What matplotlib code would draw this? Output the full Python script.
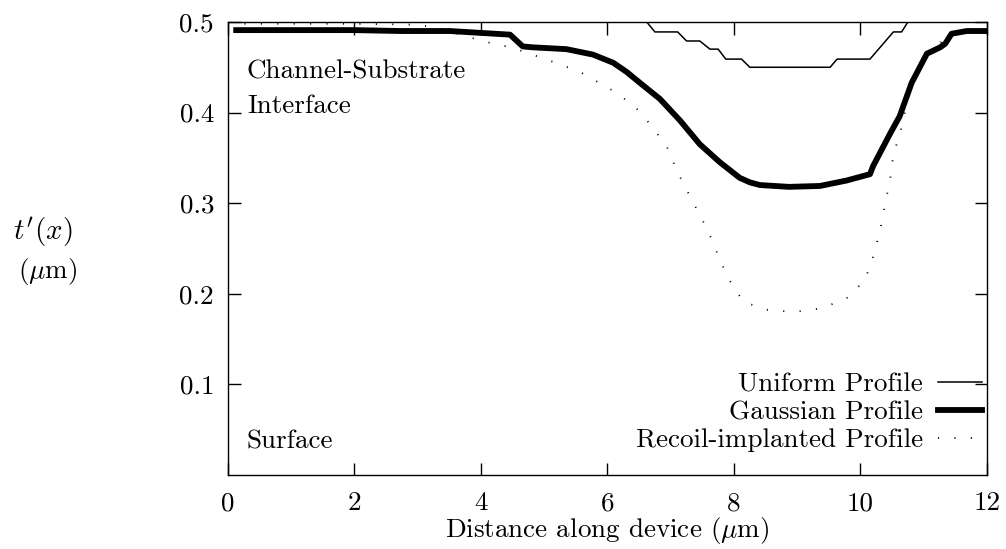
import matplotlib
matplotlib.use("Agg")
import matplotlib.pyplot as plt

plt.rcParams["font.family"] = "serif"
plt.rcParams["font.serif"] = ["cmr10", "DejaVu Serif"]
plt.rcParams["mathtext.fontset"] = "cm"
plt.rcParams["axes.unicode_minus"] = False
plt.rcParams["axes.formatter.use_mathtext"] = True

# uniform profile (stepped)
uni_x = [6.62, 6.75, 7.11, 7.25, 7.46, 7.62, 7.75, 7.87, 8.12, 8.25, 9.52, 9.63, 10.15, 10.52, 10.65, 10.75]
uni_y = [0.500, 0.489, 0.489, 0.479, 0.479, 0.470, 0.470, 0.459, 0.459, 0.450, 0.450, 0.459, 0.459, 0.489, 0.489, 0.500]

# gaussian profile
gau_x = [0.13, 1.0, 2.0, 2.72, 3.51, 3.98, 4.46, 4.66, 4.82, 5.35, 5.77, 6.09, 6.30, 6.51,
         6.83, 7.15, 7.46, 7.78, 8.09, 8.25, 8.41, 8.87, 9.36, 9.78, 10.15, 10.2, 10.47, 10.62,
         10.81, 11.05, 11.26, 11.34, 11.44, 11.68, 12.0]
gau_y = [0.491, 0.491, 0.491, 0.490, 0.490, 0.488, 0.486, 0.473, 0.472, 0.470, 0.464, 0.455,
         0.445, 0.433, 0.415, 0.391, 0.365, 0.345, 0.328, 0.323, 0.320, 0.318, 0.319, 0.325,
         0.332, 0.341, 0.377, 0.396, 0.433, 0.465, 0.472, 0.476, 0.487, 0.490, 0.490]

# recoil-implanted profile
rec_x = [0.0, 1.0, 2.0, 3.0, 3.35, 3.72, 3.93, 4.14, 4.35, 4.54, 4.75, 4.96, 5.14, 5.33, 5.53,
         5.72, 5.91, 6.09, 6.25, 6.43, 6.70, 6.94, 7.11, 7.30, 7.49, 7.67, 7.75, 7.91, 8.15,
         8.54, 8.96, 9.39, 9.78, 10.07, 10.20, 10.31, 10.39, 10.47, 10.52, 10.59, 10.65,
         10.81, 11.05, 11.44, 12.0]
rec_y = [0.498, 0.498, 0.498, 0.497, 0.493, 0.485, 0.481, 0.477, 0.474, 0.470, 0.466, 0.460,
         0.456, 0.451, 0.446, 0.439, 0.431, 0.424, 0.416, 0.407, 0.385, 0.362, 0.334, 0.308,
         0.283, 0.257, 0.242, 0.217, 0.191, 0.182, 0.180, 0.184, 0.195, 0.215, 0.241, 0.270,
         0.299, 0.327, 0.354, 0.369, 0.384, 0.433, 0.465, 0.487, 0.490]

xticks = [0, 2, 4, 6, 8, 10, 12]
yticks = [0.1, 0.2, 0.3, 0.4, 0.5]

fig = plt.figure(figsize=(10.06, 5.49), dpi=100)
ax = fig.add_axes([0.2266, 0.1348, 0.7545, 0.8252])

ax.plot(uni_x, uni_y, color="black", lw=1.1, label="Uniform Profile")
ax.plot(gau_x, gau_y, color="black", lw=4.2, label="Gaussian Profile", solid_joinstyle="round")
ax.plot(rec_x, rec_y, color="black", lw=1.3, linestyle=(0, (0.6, 8.5)), label="Recoil-implanted Profile")

ax.set_xlim(0, 12)
ax.set_ylim(0, 0.5)
ax.set_xticks(xticks)
ax.set_yticks(yticks)
ax.set_xticklabels([str(v) for v in xticks])
ax.set_yticklabels(["%.1f" % v for v in yticks])
ax.tick_params(direction="in", length=9, width=1.0, top=True, right=True, labelsize=19.5)
ax.tick_params(axis="x", pad=12)
ax.tick_params(axis="y", pad=10)
for s in ax.spines.values():
    s.set_linewidth(1.0)

ax.set_xlabel(r"Distance along device ($\mu$m)", fontsize=19.5)
ax.xaxis.set_label_coords(0.5, -0.088)

# y label sits left of the axis, unrotated, on two lines
fig.text(0.042, 0.577, r"$t'(x)$", fontsize=21, ha="center", va="center")
fig.text(0.047, 0.506, r"($\mu$m)", fontsize=19.5, ha="center", va="center")

ax.text(0.3, 0.438, "Channel-Substrate", fontsize=19.5, va="baseline")
ax.text(0.3, 0.399, "Interface", fontsize=19.5, va="baseline")
ax.text(0.295, 0.0294, "Surface", fontsize=19.5, va="baseline")

ax.legend(loc="lower right", frameon=False, markerfirst=False, fontsize=19.5,
          handlelength=1.63, handletextpad=0.55, labelspacing=0.14,
          borderpad=0, borderaxespad=0, bbox_to_anchor=(0.9934, 0.05))

fig.savefig("out.png", dpi=100)
